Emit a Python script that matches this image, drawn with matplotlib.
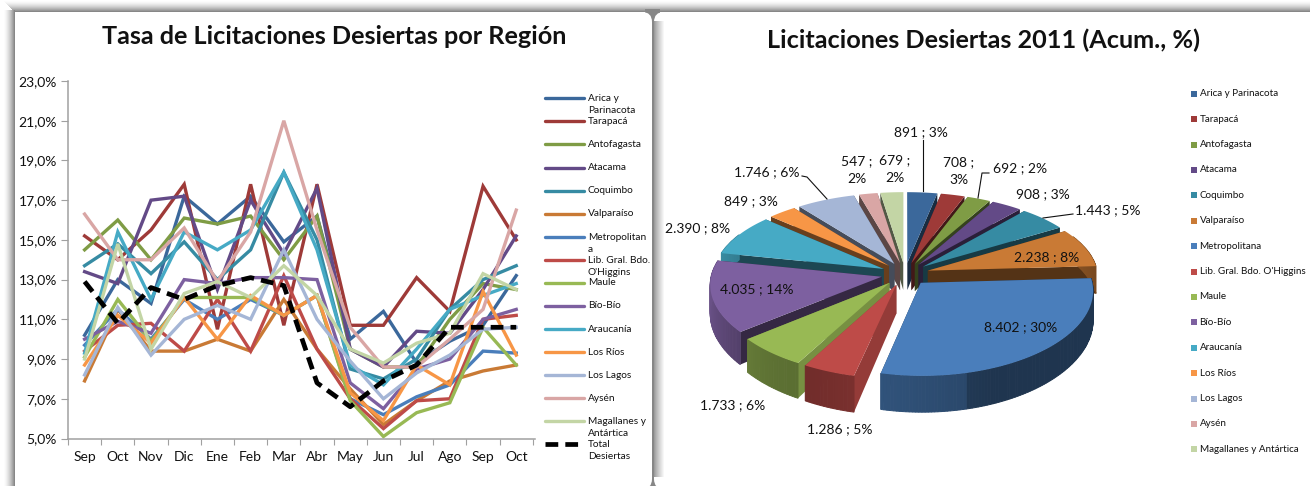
import numpy as np
import matplotlib
matplotlib.use("Agg")
import matplotlib.pyplot as plt
from matplotlib.patches import FancyBboxPatch, Polygon, Rectangle

W, H = 1310, 486
regions_line = ["Arica y\nParinacota", "Tarapacá", "Antofagasta", "Atacama", "Coquimbo", "Valparaíso",
                "Metropolitan\na", "Lib. Gral. Bdo.\nO'Higgins", "Maule", "Bío-Bío", "Araucanía",
                "Los Ríos", "Los Lagos", "Aysén", "Magallanes y\nAntártica"]
regions_pie = ["Arica y Parinacota", "Tarapacá", "Antofagasta", "Atacama", "Coquimbo", "Valparaíso",
               "Metropolitana", "Lib. Gral. Bdo. O'Higgins", "Maule", "Bío-Bío", "Araucanía",
               "Los Ríos", "Los Lagos", "Aysén", "Magallanes y Antártica"]
months = ["Sep", "Oct", "Nov", "Dic", "Ene", "Feb", "Mar", "Abr", "May", "Jun", "Jul", "Ago", "Sep", "Oct"]
colors = ["#3B689B", "#9E3A38", "#7F9C45", "#634A87", "#368BA3", "#C97A35", "#4A7EBB", "#BE4B48",
          "#98B954", "#7D60A0", "#46AAC5", "#F79646", "#A5B6D6", "#D9A6A5", "#C3D5A5"]

arica = [10.2, 13.0, 11.8, 17.2, 15.8, 17.2, 14.9, 16.2, 10.0, 11.4, 8.8, 9.9, 10.7, 13.2]
tarapaca = [15.2, 14.0, 15.5, 17.8, 10.5, 17.8, 10.7, 17.8, 10.7, 10.7, 13.1, 11.4, 17.7, 15.0]
antofagasta = [14.5, 16.0, 14.0, 16.1, 15.8, 16.2, 14.0, 16.2, 9.5, 8.6, 8.6, 11.0, 12.8, 12.5]
atacama = [13.4, 12.8, 17.0, 17.2, 12.5, 17.0, 14.3, 17.6, 9.5, 8.6, 10.4, 10.3, 12.5, 15.2]
coquimbo = [13.7, 14.8, 13.3, 14.9, 13.0, 14.5, 18.4, 15.0, 8.5, 8.0, 9.0, 11.5, 13.0, 13.7]
valparaiso = [7.9, 11.5, 9.4, 9.4, 10.0, 9.4, 12.0, 9.5, 7.5, 5.7, 6.9, 7.9, 8.4, 8.7]
metropolitana = [9.7, 11.5, 10.0, 12.0, 11.0, 12.0, 11.2, 12.2, 7.0, 6.2, 7.1, 7.7, 9.4, 9.3]
ohiggins = [9.4, 10.7, 10.8, 9.4, 12.0, 9.4, 13.2, 9.5, 7.0, 5.5, 6.9, 7.0, 11.0, 11.2]
maule = [9.1, 12.0, 9.9, 12.1, 12.1, 12.1, 11.2, 12.2, 6.9, 5.1, 6.3, 6.8, 10.6, 8.7]
biobio = [10.0, 10.9, 10.3, 13.0, 12.8, 13.1, 13.1, 13.0, 7.8, 6.5, 8.5, 9.0, 11.0, 11.5]
araucania = [9.3, 15.4, 12.0, 15.4, 14.5, 15.5, 18.4, 14.5, 8.7, 7.7, 9.5, 11.5, 12.2, 12.8]
losrios = [8.7, 11.2, 9.8, 12.1, 10.0, 12.2, 11.2, 12.2, 7.3, 5.9, 8.7, 7.7, 12.4, 9.2]
loslagos = [8.2, 11.6, 9.2, 11.0, 11.7, 11.0, 14.5, 11.0, 8.9, 7.0, 8.3, 9.2, 10.5, 10.6]
aysen = [16.3, 14.0, 14.0, 15.6, 12.9, 15.4, 21.0, 15.5, 10.6, 8.6, 8.6, 10.0, 11.5, 16.5]
magallanes = [9.0, 14.8, 9.5, 12.3, 12.9, 12.1, 13.7, 12.2, 9.5, 8.8, 9.8, 10.3, 13.3, 12.5]
total = [12.9, 10.8, 12.6, 12.0, 12.7, 13.1, 12.7, 7.8, 6.6, 7.9, 8.7, 10.6, 10.6, 10.6]
series = [arica, tarapaca, antofagasta, atacama, coquimbo, valparaiso, metropolitana, ohiggins, maule,
          biobio, araucania, losrios, loslagos, aysen, magallanes]

pie_values = [891, 708, 692, 908, 1443, 2238, 8402, 1286, 1733, 4035, 2390, 849, 1746, 547, 679]
pie_labels = ["891 ; 3%", "708 ;\n3%", "692 ; 2%", "908 ; 3%", "1.443 ; 5%", "2.238 ; 8%", "8.402 ; 30%",
              "1.286 ; 5%", "1.733 ; 6%", "4.035 ; 14%", "2.390 ; 8%", "849 ; 3%", "1.746 ; 6%",
              "547 ;\n2%", "679 ;\n2%"]

plt.rcParams["font.family"] = ["Lato", "DejaVu Sans"]
fig = plt.figure(figsize=(W / 100, H / 100), dpi=100, facecolor="white")
bg = fig.add_axes([0, 0, 1, 1])
bg.set_xlim(0, W); bg.set_ylim(H, 0); bg.axis("off")

def mix(f):
    g = 1 - 0.47 * f
    return (g, g, g)
# soft frame shadows
for k in range(12):
    f = (k / 11) ** 1.6
    bg.add_patch(Rectangle((3 + k, 10), 1.1, H, color=mix(f), lw=0, zorder=0))
    bg.add_patch(Rectangle((3 + k, k), W, 1.1, color=mix(f), lw=0, zorder=0))
bg.add_patch(Rectangle((645, 9), 15, H, color=mix(1.0), lw=0, zorder=0))
for x0, x1 in [(15, 652), (654, W + 30)]:
    bg.add_patch(FancyBboxPatch((x0, 12), x1 - x0, H - 12 + 3, boxstyle="round,pad=0,rounding_size=10",
                                fc="white", ec="none", lw=0, zorder=1))
for k in range(11):
    g = 0.55 + 0.45 * ((k + 1) / 11) ** 0.8
    bg.add_patch(Rectangle((654 + k, 21), 1.1, H - 30, color=(g, g, g), lw=0, zorder=1.5))

TITLE = dict(ha="center", va="center", fontsize=18.2, fontweight="bold", color="#111111", zorder=6)
bg.text(334, 36.5, "Tasa de Licitaciones Desiertas por Región", **TITLE)
bg.text(983.5, 40.5, "Licitaciones Desiertas 2011 (Acum., %)", **TITLE)

# line chart
ax = fig.add_axes([68 / W, 1 - 438.5 / H, (534.5 - 68) / W, (438.5 - 81) / H])
ax.patch.set_alpha(0)
x = np.arange(len(months))
for s, c, name in zip(series, colors, regions_line):
    ax.plot(x, s, color=c, lw=2.4, label=name, solid_joinstyle="miter")
ax.plot(x, total, color="black", lw=3.4, ls=(0, (2.7, 1.5)), label="Total\nDesiertas")
ax.set_xlim(-0.5, 13.55)
ax.set_ylim(5, 23)
ax.set_yticks(np.arange(5, 24, 2))
ax.set_yticklabels([f"{v},0%" for v in range(5, 24, 2)], fontsize=10)
ax.set_xticks(np.arange(-0.5, 13.6, 1), minor=False, labels=[""] * 15)
ax.set_xticks(x, minor=True, labels=months, fontsize=10)
ax.tick_params(axis="x", which="minor", length=0, pad=9, labelcolor="#111111")
ax.tick_params(axis="x", which="major", length=4, color="#A0A0A0", direction="out")
ax.tick_params(axis="y", length=5, color="#A0A0A0", labelcolor="#111111", pad=3)
for k in ["top", "right"]:
    ax.spines[k].set_visible(False)
for k in ["left", "bottom"]:
    ax.spines[k].set_color("#A0A0A0"); ax.spines[k].set_linewidth(1.1)

# line legend, hand placed to keep the wrapped rows overlapping like the source
handles, labs = ax.get_legend_handles_labels()
for i, (h, lab) in enumerate(zip(handles, labs)):
    y = 98.3 + i * 23.07
    bg.plot([545, 584], [y, y], color=h.get_color(), lw=2.4 if i < 15 else 3.4,
            ls="-" if i < 15 else (0, (2.7, 1.5)), solid_capstyle="round", zorder=3)
    two = "\n" in lab
    bg.text(588, y + 6.5 if two else y, lab, fontsize=7.3, va="center", ha="left", color="#111111",
            linespacing=1.42, zorder=6)

# pie drawn as projected exploded wedges with a simple perspective
CX, CY, R, SQ, DEPTH, EXP, PERSP = 905, 274, 170, 0.475, 28, 24, 0.11
vals = np.array(pie_values, dtype=float)
edges = np.concatenate([[0], np.cumsum(vals)]) / vals.sum() * 2 * np.pi
def shade(c, f):
    return tuple(np.clip(np.array(matplotlib.colors.to_rgb(c)) * f, 0, 1))
def proj(wx, wv, dz=0.0):
    s = 1 / (1 + PERSP * wv / R)
    return CX + wx * s ** 0.8, CY - wv * SQ * s + dz * s ** 2
def rim(t, m, r=R):
    return EXP * np.sin(m) + r * np.sin(t), EXP * np.cos(m) + r * np.cos(t)
wedges = []
for i in range(len(vals)):
    a, b = edges[i], edges[i + 1]
    wedges.append((i, a, b, (a + b) / 2))
order = sorted(wedges, key=lambda w: -np.cos(w[3]))
for i, a, b, m in order:
    c = colors[i]
    ts = np.linspace(a, b, max(8, int((b - a) * 60)))
    ax0, av0 = EXP * np.sin(m), EXP * np.cos(m)
    for t, side in ((a, 0), (b, 1)):
        wx, wv = rim(t, m)
        f = 0.42 if np.sin(m) > 0 or m > 3.9 else 0.78
        bg.add_patch(Polygon([proj(ax0, av0), proj(wx, wv), proj(wx, wv, DEPTH), proj(ax0, av0, DEPTH)],
                             closed=True, fc=shade(c, f), ec="none", zorder=3))
    for t0, t1 in zip(ts[:-1], ts[1:]):
        tm = (t0 + t1) / 2
        if np.cos(tm) < 0.45:
            w0 = rim(t0, m); w1 = rim(t1, m)
            if i == 6:
                f = 0.42 + 0.20 * max(0, -np.sin(tm + 0.4)) + 0.12 * (tm > 2.9)
            else:
                f = 0.72 + 0.12 * np.sin(3 * tm)
            bg.add_patch(Polygon([proj(*w0), proj(*w1), proj(*w1, DEPTH), proj(*w0, DEPTH)], closed=True,
                                 fc=shade(c, f), ec=shade(c, f), lw=0.7, zorder=3))
    top = [proj(ax0, av0)] + [proj(*rim(t, m)) for t in ts]
    bg.add_patch(Polygon(top, closed=True, fc=c, ec="none", zorder=3))

pie_text_xy = [(921, 132), (959, 171), (1020, 168), (1043, 194), (1108, 210), (1047, 257), (1021, 327),
               (840, 429), (733, 405), (757, 289), (698, 228), (751, 201), (767, 172), (857, 170), (895, 169)]
for lab, (tx, ty) in zip(pie_labels, pie_text_xy):
    bg.text(tx, ty, lab, fontsize=10, ha="center", va="center", color="#111111", linespacing=1.55, zorder=6)
for xs, ys in [([922.5, 922.5], [140, 191]), ([978, 982, 989], [198, 173, 173]), ([1043, 1073, 1073], [218, 214, 214]),
               ([802, 807, 827], [176, 177, 199])]:
    bg.plot(xs, ys, color="#111111", lw=0.8, zorder=6)

# pie legend
for i, name in enumerate(regions_pie):
    y = 93.7 + i * 25.4
    bg.add_patch(Rectangle((1191, y - 3), 6, 6, fc=colors[i], ec="none", zorder=3))
    bg.text(1199.5, y, name, fontsize=7.1, va="center", ha="left", color="#111111", zorder=6)

fig.savefig("out.png", dpi=100, facecolor="white")
